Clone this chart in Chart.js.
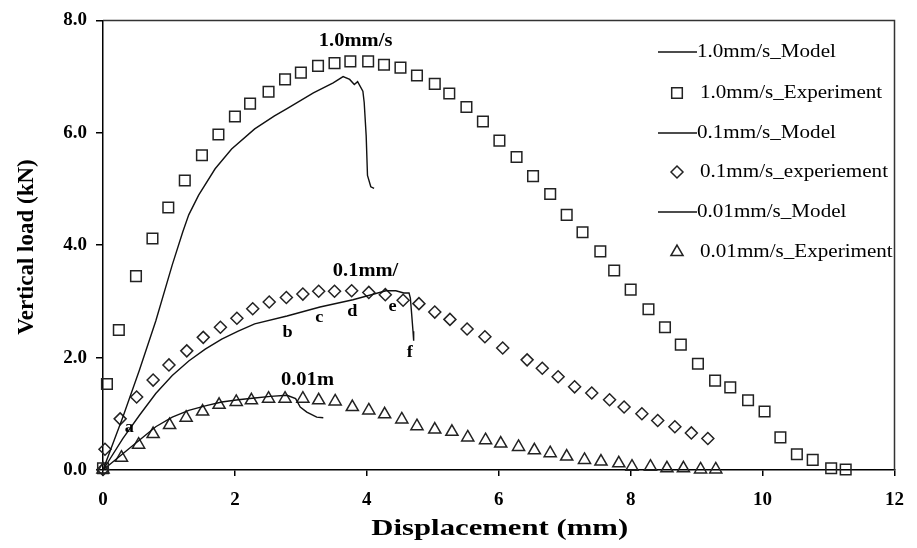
<!DOCTYPE html>
<html>
<head>
<meta charset="utf-8">
<script src="https://cdn.jsdelivr.net/npm/chart.js@4/dist/chart.umd.min.js"></script>
<style>
  html, body { margin: 0; padding: 0; background: #fff; }
  canvas { display: block; }
</style>
</head>
<body>
<canvas id="loadChart" width="917" height="548"></canvas>
<script>
// 1.0 mm/s
const model10X = [0, 0.30, 0.55, 0.80, 1.05, 1.21, 1.30, 1.45, 1.70, 1.95, 2.30, 2.60, 2.79, 3.19, 3.49, 3.64, 3.74, 3.81, 3.86, 3.94, 3.96, 3.99, 4.01, 4.06, 4.11];
const model10Y = [0, 0.94, 1.77, 2.65, 3.65, 4.24, 4.54, 4.89, 5.36, 5.71, 6.07, 6.30, 6.43, 6.71, 6.89, 7.00, 6.95, 6.86, 6.91, 6.74, 6.54, 5.95, 5.24, 5.04, 5.01];
const exp10X = [0, 0.06, 0.24, 0.50, 0.75, 0.99, 1.24, 1.50, 1.75, 2.00, 2.23, 2.51, 2.76, 3.00, 3.26, 3.51, 3.75, 4.02, 4.26, 4.51, 4.76, 5.03, 5.25, 5.51, 5.76, 6.01, 6.27, 6.52, 6.78, 7.03, 7.27, 7.54, 7.75, 8.00, 8.27, 8.52, 8.76, 9.02, 9.28, 9.51, 9.78, 10.03, 10.27, 10.52, 10.76, 11.04, 11.26];
const exp10Y = [0.03, 1.53, 2.49, 3.45, 4.12, 4.67, 5.15, 5.60, 5.97, 6.29, 6.52, 6.73, 6.95, 7.07, 7.19, 7.24, 7.27, 7.27, 7.21, 7.16, 7.02, 6.87, 6.70, 6.46, 6.20, 5.86, 5.57, 5.23, 4.91, 4.54, 4.23, 3.89, 3.55, 3.21, 2.86, 2.54, 2.23, 1.89, 1.59, 1.47, 1.24, 1.04, 0.58, 0.28, 0.18, 0.03, 0.01];

// 0.1 mm/s
const model01X = [0, 0.30, 0.55, 0.80, 1.05, 1.30, 1.55, 1.80, 2.05, 2.30, 2.79, 3.29, 3.79, 4.29, 4.44, 4.56, 4.64, 4.66, 4.68, 4.70, 4.71];
const model01Y = [0, 0.56, 0.97, 1.36, 1.68, 1.94, 2.15, 2.33, 2.47, 2.60, 2.74, 2.90, 3.03, 3.19, 3.19, 3.15, 3.15, 3.06, 2.77, 2.47, 2.30];
const exp01X = [0, 0.03, 0.26, 0.51, 0.76, 1.00, 1.27, 1.52, 1.78, 2.03, 2.27, 2.52, 2.78, 3.03, 3.27, 3.51, 3.77, 4.03, 4.28, 4.55, 4.79, 5.03, 5.26, 5.52, 5.79, 6.06, 6.43, 6.66, 6.90, 7.15, 7.41, 7.68, 7.90, 8.17, 8.41, 8.67, 8.92, 9.17];
const exp01Y = [0.01, 0.37, 0.91, 1.30, 1.60, 1.87, 2.12, 2.36, 2.54, 2.70, 2.87, 2.99, 3.07, 3.13, 3.18, 3.18, 3.19, 3.16, 3.12, 3.02, 2.96, 2.81, 2.68, 2.51, 2.37, 2.17, 1.96, 1.81, 1.66, 1.48, 1.37, 1.25, 1.12, 1.00, 0.88, 0.77, 0.66, 0.56];

// 0.01 mm/s
const model001X = [0, 0.30, 0.55, 0.80, 1.05, 1.30, 1.55, 1.80, 2.05, 2.30, 2.54, 2.79, 2.92, 2.99, 3.09, 3.24, 3.34];
const model001Y = [0, 0.29, 0.53, 0.77, 0.94, 1.06, 1.14, 1.21, 1.25, 1.28, 1.31, 1.33, 1.27, 1.12, 1.03, 0.94, 0.93];
const exp001X = [0, 0.28, 0.54, 0.76, 1.01, 1.26, 1.51, 1.76, 2.02, 2.25, 2.51, 2.76, 3.03, 3.27, 3.52, 3.78, 4.03, 4.27, 4.53, 4.76, 5.03, 5.29, 5.53, 5.80, 6.03, 6.30, 6.54, 6.78, 7.03, 7.30, 7.55, 7.82, 8.02, 8.30, 8.55, 8.80, 9.06, 9.29];
const exp001Y = [0.01, 0.22, 0.45, 0.64, 0.80, 0.93, 1.04, 1.16, 1.21, 1.24, 1.27, 1.27, 1.27, 1.24, 1.22, 1.12, 1.06, 0.99, 0.90, 0.78, 0.72, 0.68, 0.58, 0.53, 0.47, 0.41, 0.35, 0.30, 0.24, 0.18, 0.15, 0.12, 0.06, 0.06, 0.03, 0.03, 0.01, 0.01];

const seriesNames = ['1.0mm/s_Model', '1.0mm/s_Experiment', '0.1mm/s_Model', '0.1mm/s_experiement', '0.01mm/s_Model', '0.01mm/s_Experiment'];
const yTicks = [0, 2, 4, 6, 8];
const xTicks = [0, 2, 4, 6, 8, 10, 12];

// text labels on the curves: [text, x, y, size]
const curveNotes = [
    ['1.0mm/s', 3.83, 7.63, 18],
    ['0.1mm/', 3.98, 3.53, 18],
    ['0.01m', 3.10, 1.59, 18],
    ['a', 0.40, 0.75, 16],
    ['b', 2.80, 2.44, 16],
    ['c', 3.28, 2.70, 16],
    ['d', 3.78, 2.81, 16],
    ['e', 4.39, 2.90, 16],
    ['f', 4.65, 2.09, 16]
];

const SERIF = '"Liberation Serif", "Times New Roman", serif';
const STRETCH = 1.14;

function pts(xs, ys) {
    return xs.map((x, i) => ({ x: x, y: ys[i] }));
}

function modelSet(label, xs, ys) {
    return {
        label: label, data: pts(xs, ys), showLine: true, pointRadius: 0,
        borderColor: '#111', borderWidth: 1.4, tension: 0, clip: false
    };
}

function expSet(label, xs, ys, style, r) {
    return {
        label: label, data: pts(xs, ys), showLine: false, pointStyle: style,
        pointRadius: r, pointBorderWidth: 1.5, pointBorderColor: '#222',
        pointBackgroundColor: 'rgba(255,255,255,0)', borderColor: '#222',
        backgroundColor: 'rgba(255,255,255,0)', clip: false
    };
}

function stretchText(ctx, text, x, y, font, align, sx) {
    ctx.save();
    ctx.font = font;
    ctx.textAlign = align || 'center';
    ctx.textBaseline = 'middle';
    ctx.translate(x, y);
    ctx.scale(sx || STRETCH, 1);
    ctx.fillText(text, 0, 0);
    ctx.restore();
}

const overlay = {
    id: 'overlay',
    afterDraw(chart) {
        const ctx = chart.ctx;
        const a = chart.chartArea;
        const xs = chart.scales.x, ys = chart.scales.y;
        ctx.save();

        // frame top and right
        ctx.strokeStyle = '#333';
        ctx.lineWidth = 1.5;
        ctx.beginPath();
        ctx.moveTo(a.left, a.top);
        ctx.lineTo(a.right, a.top);
        ctx.lineTo(a.right, a.bottom);
        ctx.stroke();

        ctx.fillStyle = '#000';
        curveNotes.forEach(n => {
            stretchText(ctx, n[0], xs.getPixelForValue(n[1]), ys.getPixelForValue(n[2]), 'bold ' + n[3] + 'px ' + SERIF);
        });

        // axis titles
        stretchText(ctx, 'Displacement (mm)', (a.left + a.right) / 2 + 1, 529, 'bold 24px ' + SERIF, 'center', 1.28);
        ctx.save();
        ctx.translate(27, 247);
        ctx.rotate(-Math.PI / 2);
        ctx.font = 'bold 23px ' + SERIF;
        ctx.textAlign = 'center';
        ctx.textBaseline = 'middle';
        ctx.fillText('Vertical load (kN)', 0, 0);
        ctx.restore();

        // legend inside plot
        const rowY = [52, 93, 133, 172, 212, 252];
        chart.data.datasets.forEach((ds, i) => {
            const y = rowY[i];
            ctx.fillStyle = '#000';
            if (ds.showLine) {
                ctx.strokeStyle = '#111';
                ctx.lineWidth = 1.4;
                ctx.beginPath();
                ctx.moveTo(658, y);
                ctx.lineTo(697, y);
                ctx.stroke();
                stretchText(ctx, ds.label, 697, y, '18.5px ' + SERIF, 'left');
            } else {
                ctx.strokeStyle = '#222';
                ctx.fillStyle = 'rgba(255,255,255,0)';
                ctx.lineWidth = 1.5;
                Chart.helpers.drawPoint(ctx, {
                    pointStyle: ds.pointStyle, radius: ds.pointRadius, borderWidth: 1.5, rotation: 0
                }, 677, y);
                ctx.fillStyle = '#000';
                stretchText(ctx, ds.label, 700, y, '18.5px ' + SERIF, 'left');
            }
        });
        ctx.restore();
    }
};

document.addEventListener('DOMContentLoaded', function () {
    const ctx = document.getElementById('loadChart').getContext('2d');
    new Chart(ctx, {
        type: 'scatter',
        data: {
            datasets: [
                modelSet(seriesNames[0], model10X, model10Y),
                expSet(seriesNames[1], exp10X, exp10Y, 'rect', 7.5),
                modelSet(seriesNames[2], model01X, model01Y),
                expSet(seriesNames[3], exp01X, exp01Y, 'rectRot', 6),
                modelSet(seriesNames[4], model001X, model001Y),
                expSet(seriesNames[5], exp001X, exp001Y, 'triangle', 7)
            ]
        },
        options: {
            responsive: false,
            animation: false,
            devicePixelRatio: 1,
            layout: { padding: { left: 0, top: 17, right: 11, bottom: 0 } },
            plugins: {
                legend: { display: false },
                tooltip: { enabled: false }
            },
            scales: {
                x: {
                    type: 'linear', min: xTicks[0], max: xTicks[xTicks.length - 1],
                    afterBuildTicks: s => { s.ticks = xTicks.map(v => ({ value: v })); },
                    afterFit: s => { s.height = 78; },
                    border: { color: '#000', width: 1.5 },
                    grid: { drawOnChartArea: false, drawTicks: true, tickLength: 6, color: '#000', lineWidth: 1.5 },
                    ticks: {
                        color: '#000', padding: 13, maxRotation: 0,
                        font: { family: SERIF, size: 19, weight: 'bold' },
                        callback: v => String(v)
                    }
                },
                y: {
                    type: 'linear', min: yTicks[0], max: yTicks[yTicks.length - 1],
                    afterBuildTicks: s => { s.ticks = yTicks.map(v => ({ value: v })); },
                    afterFit: s => { s.width = 103; },
                    border: { color: '#000', width: 1.5 },
                    grid: { drawOnChartArea: false, drawTicks: true, tickLength: 7, color: '#000', lineWidth: 1.5 },
                    ticks: {
                        color: '#000', padding: 9,
                        font: { family: SERIF, size: 19, weight: 'bold' },
                        callback: v => Number(v).toFixed(1)
                    }
                }
            }
        },
        plugins: [overlay]
    });
});
</script>
</body>
</html>
